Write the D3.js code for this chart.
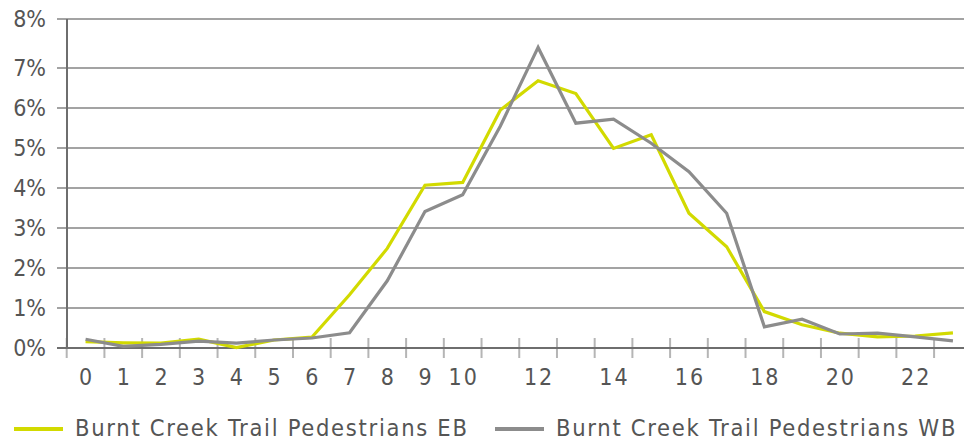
<!DOCTYPE html>
<html>
<head>
<meta charset="utf-8">
<script src="https://cdn.jsdelivr.net/npm/d3@7/dist/d3.min.js"></script>
<style>
  html, body { margin: 0; padding: 0; background: #fff; }
  svg { display: block; }
  text { font-family: "DejaVu Sans Condensed", "DejaVu Sans", sans-serif; font-stretch: condensed; fill: #555; }
</style>
</head>
<body>
<svg id="chart" width="964" height="443"></svg>
<script>
const hours = d3.range(24);
const xLabelHours = [0,1,2,3,4,5,6,7,8,9,10,12,14,16,18,20,22];
const yTicks = [0,1,2,3,4,5,6,7,8];
const seriesNames = ["Burnt Creek Trail Pedestrians EB", "Burnt Creek Trail Pedestrians WB"];
const ebValues = [0.16,0.13,0.12,0.22,0.01,0.20,0.27,1.33,2.49,4.07,4.14,5.95,6.68,6.36,4.99,5.33,3.37,2.53,0.91,0.58,0.37,0.28,0.30,0.38];
const wbValues = [0.22,0.04,0.09,0.17,0.12,0.20,0.25,0.38,1.68,3.41,3.83,5.55,7.42,5.62,5.72,5.12,4.41,3.37,0.53,0.72,0.35,0.37,0.28,0.18];
const colors = ["#d2da00", "#8c8c8c"];

const svg = d3.select("#chart");
const x = d3.scaleBand().domain(hours).range([66.7, 971.8]).padding(0);
const y = d3.scaleLinear().domain([0, 7, 8]).range([348, 68, 19]);

// gridlines + y tick marks
svg.append("g").selectAll("line").data(yTicks.filter(d => d > 0)).join("line")
  .attr("x1", 57).attr("x2", 964)
  .attr("y1", d => y(d)).attr("y2", d => y(d))
  .attr("stroke", "#a3a3a3").attr("stroke-width", 2);

// y labels
svg.append("g").selectAll("text").data(yTicks).join("text")
  .attr("x", 46).attr("y", d => y(d)).attr("dy", "0.36em")
  .attr("text-anchor", "end").attr("font-size", 23)
  .text(d => d + "%");

// x tick marks at band boundaries
const boundaries = d3.range(25).map(i => x.range()[0] + i * x.bandwidth());
svg.append("g").selectAll("line").data(boundaries).join("line")
  .attr("x1", d => d).attr("x2", d => d)
  .attr("y1", 338).attr("y2", 358)
  .attr("stroke", "#b5b5b5").attr("stroke-width", 2);

// axes lines
svg.append("line").attr("x1", 57).attr("x2", 964).attr("y1", y(0)).attr("y2", y(0))
  .attr("stroke", "#6e6e6e").attr("stroke-width", 2);
svg.append("line").attr("x1", 67).attr("x2", 67).attr("y1", y(8)).attr("y2", y(0))
  .attr("stroke", "#6e6e6e").attr("stroke-width", 2);

// x labels
svg.append("g").selectAll("text").data(xLabelHours).join("text")
  .attr("x", d => x(d) + x.bandwidth() / 2 + (String(d).length > 1 ? 1 : 0))
  .attr("y", 377).attr("dy", "0.36em")
  .attr("text-anchor", "middle").attr("font-size", 23)
  .attr("letter-spacing", d => String(d).length > 1 ? 2 : 0)
  .text(d => d);

// lines
const line = d3.line().x((d, i) => x(hours[i]) + x.bandwidth() / 2).y(d => y(d));
[ebValues, wbValues].forEach((vals, k) => {
  svg.append("path").datum(vals)
    .attr("d", line).attr("fill", "none")
    .attr("stroke", colors[k]).attr("stroke-width", 3.2)
    .attr("stroke-linejoin", "miter");
});

// legend
const legendPos = [{lx: 14, tx: 75}, {lx: 495, tx: 556}];
seriesNames.forEach((name, k) => {
  const g = svg.append("g");
  g.append("line").attr("x1", legendPos[k].lx).attr("x2", legendPos[k].lx + 49)
    .attr("y1", 429).attr("y2", 429).attr("stroke", colors[k]).attr("stroke-width", 4);
  g.append("text").attr("x", legendPos[k].tx).attr("y", 436)
    .attr("font-size", 23.5).attr("letter-spacing", 1.7).text(name);
});
</script>
</body>
</html>
